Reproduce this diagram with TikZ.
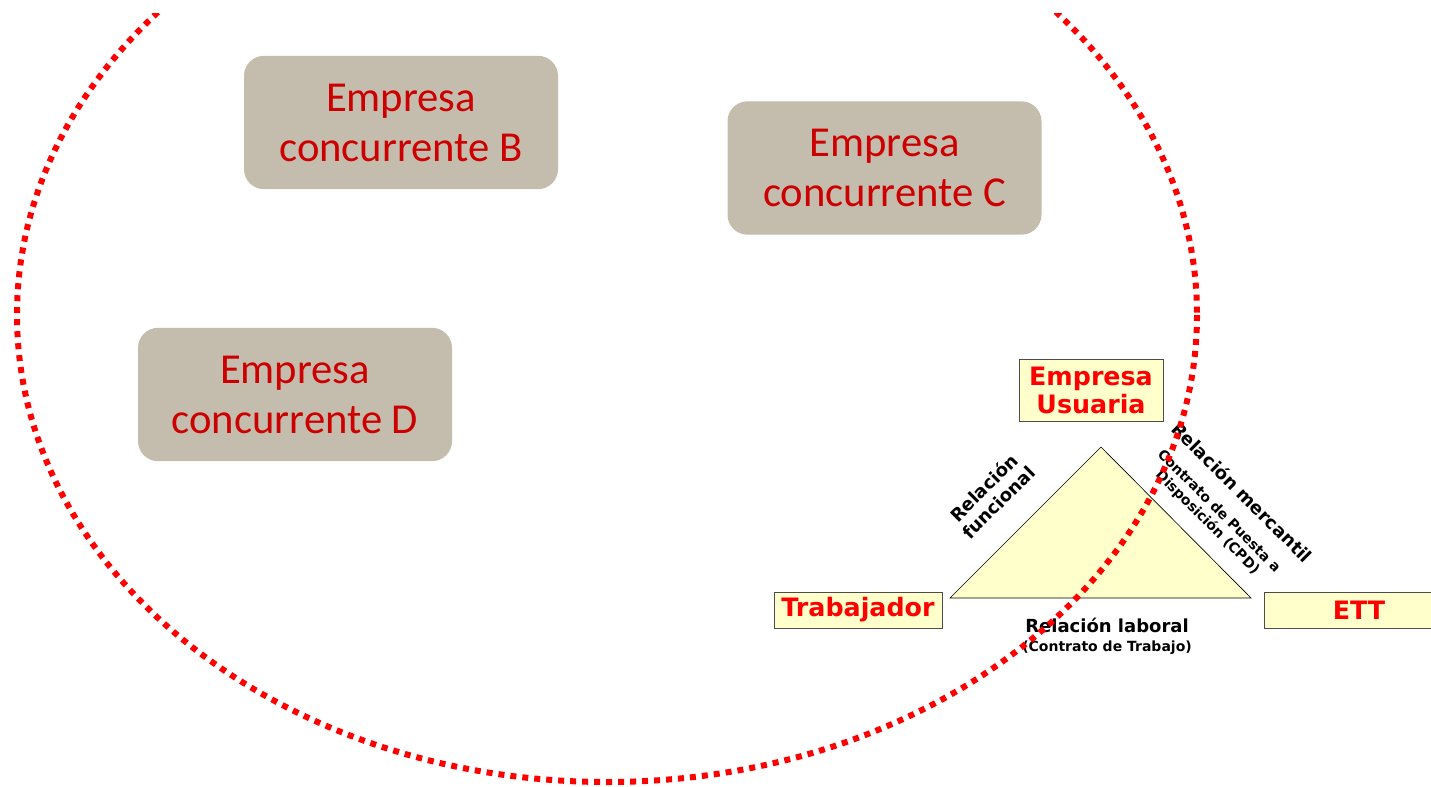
\documentclass[tikz,border=0pt]{standalone}
\usepackage{fontspec}
\setmainfont{DejaVu Sans}
\newfontfamily\concfont{Carlito}
\usepackage{tikz}
\definecolor{grisconc}{RGB}{196,189,173}
\definecolor{rojoconc}{RGB}{204,0,0}
\definecolor{amarillo}{RGB}{255,255,204}

\begin{document}
\begin{tikzpicture}[x=0.75pt,y=0.75pt,yscale=-1,xscale=1,
  concbox/.style={fill=grisconc, rounded corners=15pt, text=rojoconc, align=center, inner sep=0pt,
    font=\concfont\fontsize{32}{37.5}\selectfont, minimum width=235.5pt, minimum height=100pt},
  actor/.style={draw=black!70, line width=0.6pt, fill=amarillo, text=red, align=center, inner sep=0pt,
    font=\bfseries\fontsize{19}{21}\selectfont},
  rel/.style={align=center, inner sep=0pt, font=\bfseries\fontsize{13.5}{15.5}\selectfont},
  relsmall/.style={align=center, inner sep=0pt, font=\bfseries\fontsize{10.5}{12}\selectfont}]
\useasboundingbox (0,0) rectangle (1431,786);

%Shape: Rounded Rect [id:concB]
\node [concbox] (concB) at (401,122.5) {Empresa\\concurrente B};
%Shape: Rounded Rect [id:concC]
\node [concbox] (concC) at (884.5,168) {Empresa\\concurrente C};
%Shape: Rounded Rect [id:concD]
\node [concbox] (concD) at (295,394.5) {Empresa\\concurrente D};

%Shape: Triangle [id:triangulo]
\coordinate (top) at (1101,447);
\coordinate (left) at (950,598);
\coordinate (right) at (1251,598);
\draw [fill=amarillo, line width=0.5pt] (top) -- (left) -- (right) -- cycle;

%Shape: Rectangle [id:usuaria]
\node [actor, minimum width=108pt, minimum height=46.5pt] (usuaria) at (1091,390) {Empresa\\Usuaria};
%Shape: Rectangle [id:trabajador]
\node [actor, minimum width=126pt, minimum height=27pt] (trabajador) at (858,610) {Trabajador};
%Shape: Rectangle [id:ett]
\node [actor, minimum width=142.5pt, minimum height=27pt] (ett) at (1359,610) {ETT};

% Text Node
\node [rel, rotate=45] (funcional) at (991,495) {Relación\\funcional};
% Text Node
\node [rel, rotate=-45] (mercantil) at (1242,492) {Relación mercantil};
% Text Node
\node [relsmall, rotate=-45] (cpd) at (1213,517) {Contrato de Puesta a\\Disposición (CPD)};
% Text Node
\node [rel, font=\bfseries\fontsize{13.5}{15}\selectfont] (laboral) at (1107,625) {Relación laboral};
% Text Node
\node [relsmall, font=\bfseries\fontsize{10.5}{12}\selectfont] (contrato) at (1107,648) {(Contrato de Trabajo)};

%Shape: Ellipse [id:mercado]
\begin{scope}
\clip (0,13) rectangle (1431,786);
\draw [red, line width=4.5pt, dash pattern=on 4.5pt off 4.5pt] (607,315) ellipse [x radius=590, y radius=467];
\end{scope}

\end{tikzpicture}
\end{document}
